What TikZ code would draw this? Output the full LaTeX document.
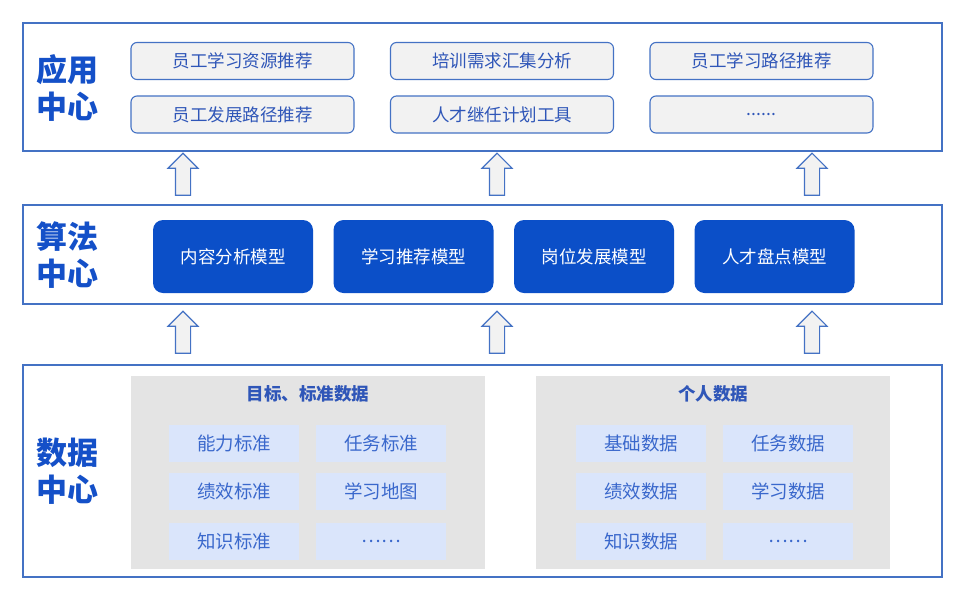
\documentclass[tikz,border=0pt]{standalone}
\usepackage{fontspec}
\setmainfont{Noto Sans CJK SC}
\usetikzlibrary{shapes}
\definecolor{frameblue}{HTML}{4472C4}
\definecolor{titleblue}{HTML}{1450C8}
\definecolor{algblue}{HTML}{0B4FC8}
\definecolor{textblue}{HTML}{2F56B8}
\definecolor{cellblue}{HTML}{DAE5FB}
\definecolor{celltext}{HTML}{3A68CC}
\definecolor{boxgray}{HTML}{F2F2F2}
\definecolor{panelgray}{HTML}{E4E4E4}
\tikzset{
	layer/.style = {
		rectangle,
		draw=frameblue,
		line width=1.3pt,
		fill=white,
		minimum width=919pt,
		inner sep=0pt
	},
	layertitle/.style = {
		align=center,
		inner sep=0pt,
		text=titleblue,
		font=\fontsize{31}{37}\selectfont\bfseries
	},
	appbox/.style = {
		rectangle,
		rounded corners=6pt,
		draw=frameblue,
		line width=1.1pt,
		fill=boxgray,
		text=textblue,
		font=\fontsize{17.5}{19}\selectfont,
		minimum width=223pt,
		minimum height=37pt,
		inner sep=0pt
	},
	algbox/.style = {
		rectangle,
		rounded corners=10pt,
		fill=algblue,
		text=white,
		font=\fontsize{17.5}{19}\selectfont,
		minimum width=160pt,
		minimum height=73pt,
		inner sep=0pt
	},
	panel/.style = {
		rectangle,
		fill=panelgray,
		minimum width=354pt,
		minimum height=193pt,
		inner sep=0pt
	},
	paneltitle/.style = {
		inner sep=0pt,
		text=textblue,
		font=\fontsize{17.5}{19}\selectfont\bfseries
	},
	cell/.style = {
		rectangle,
		fill=cellblue,
		text=celltext,
		font=\fontsize{18.5}{20}\selectfont,
		minimum width=130pt,
		minimum height=37pt,
		inner sep=0pt
	},
	uparrow/.style = {
		single arrow,
		shape border rotate=90,
		draw=frameblue,
		line width=1.1pt,
		fill=boxgray,
		minimum height=42pt,
		minimum width=29pt,
		single arrow head extend=7.5pt,
		single arrow head indent=0pt,
		inner sep=7pt
	},
}
\begin{document}
\begin{tikzpicture}[x=1pt, y=-1pt]
\useasboundingbox (0,0) rectangle (965,592);
% layers
\node [layer, minimum height=128pt] (app) at (482.5,87) {};
\node [layer, minimum height=99pt] (alg) at (482.5,254.5) {};
\node [layer, minimum height=212pt] (data) at (482.5,471) {};
\node [layertitle] (apptitle) at (67,88) {应用\\中心};
\node [layertitle] (algtitle) at (67,255) {算法\\中心};
\node [layertitle] (datatitle) at (67,471) {数据\\中心};
% application center
\node [appbox] (app11) at (242.5,61) {员工学习资源推荐};
\node [appbox] (app12) at (502,61) {培训需求汇集分析};
\node [appbox] (app13) at (761.5,61) {员工学习路径推荐};
\node [appbox] (app21) at (242.5,114.5) {员工发展路径推荐};
\node [appbox] (app22) at (502,114.5) {人才继任计划工具};
\node [appbox] (app23) at (761.5,114.5) {......};
% algorithm center
\node [algbox] (alg1) at (233,256.5) {内容分析模型};
\node [algbox] (alg2) at (413.5,256.5) {学习推荐模型};
\node [algbox] (alg3) at (594,256.5) {岗位发展模型};
\node [algbox] (alg4) at (774.5,256.5) {人才盘点模型};
% data center
\node [panel] (std) at (308,472.5) {};
\node [panel] (pers) at (713,472.5) {};
\node [paneltitle] (stdtitle) at (308,394) {目标、标准数据};
\node [paneltitle] (perstitle) at (713,394) {个人数据};
\node [cell] (std11) at (234,443.5) {能力标准};
\node [cell] (std12) at (381,443.5) {任务标准};
\node [cell] (std21) at (234,491.5) {绩效标准};
\node [cell] (std22) at (381,491.5) {学习地图};
\node [cell] (std31) at (234,541.5) {知识标准};
\node [cell] (std32) at (381,541.5) {……};
\node [cell] (pers11) at (641,443.5) {基础数据};
\node [cell] (pers12) at (788,443.5) {任务数据};
\node [cell] (pers21) at (641,491.5) {绩效数据};
\node [cell] (pers22) at (788,491.5) {学习数据};
\node [cell] (pers31) at (641,541.5) {知识数据};
\node [cell] (pers32) at (788,541.5) {……};
% arrows between layers
\foreach \ax [count=\i] in {183,497,812} {
	\node [uparrow] (up\i) at (\ax,178) {};
	\node [uparrow] (low\i) at (\ax,336) {};
}
\end{tikzpicture}
\end{document}
